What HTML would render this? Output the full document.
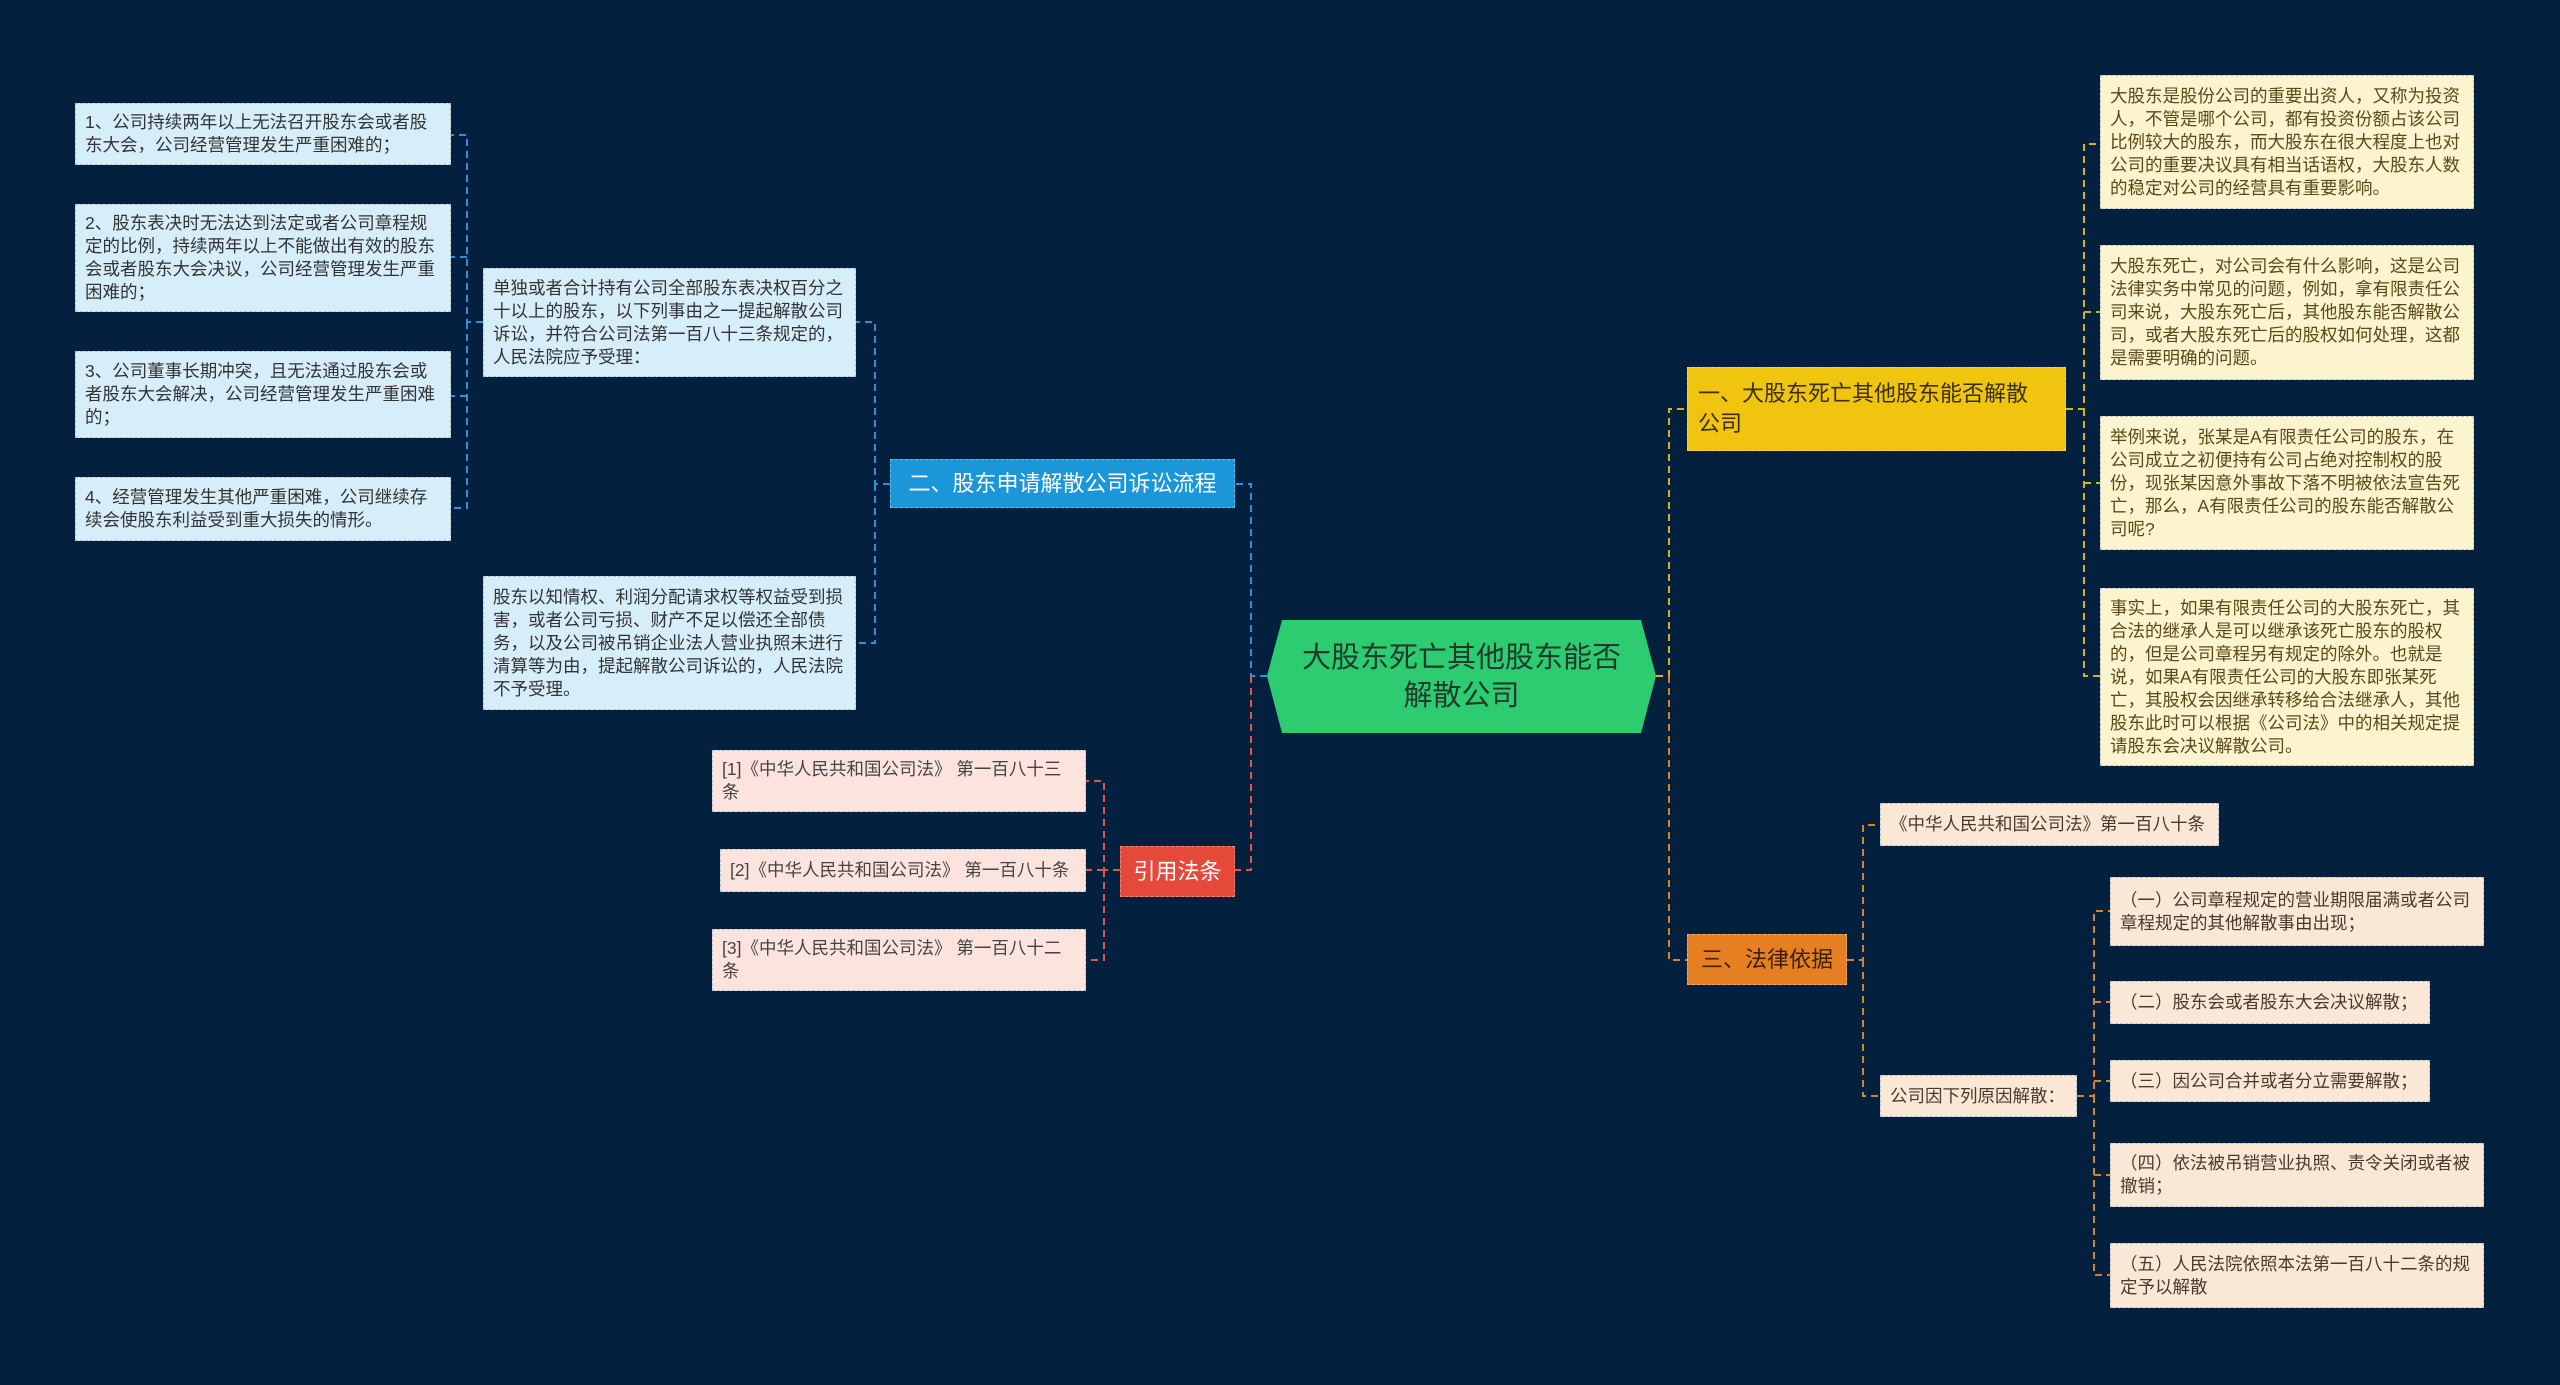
<!DOCTYPE html>
<html><head><meta charset="utf-8"><style>
html,body{margin:0;padding:0}
body{width:2560px;height:1385px;background:#03203f;position:relative;overflow:hidden;font-family:"Liberation Sans","Noto Sans CJK SC",sans-serif}
.b{position:absolute;box-sizing:border-box;border:1.5px dashed #b9c3cc;font-size:17.5px;line-height:23px;padding:0 9px;display:flex;align-items:center;color:#333}
.lb{background:#d5eef9}
.pk{background:#fce3de;color:#444}
.yl{background:#fcf3cf;color:#5b4a16}
.pc{background:#fbe7d5;color:#4a3a2a}
.n{position:absolute;box-sizing:border-box;font-size:22px;line-height:30px;display:flex;align-items:center;padding:0 10px;border:1.5px dashed rgba(255,255,255,.35)}
.nw{white-space:nowrap;justify-content:center;padding:0}
svg{position:absolute;left:0;top:0}
</style></head><body>
<svg width="2560" height="1385" fill="none" stroke-width="2" stroke-dasharray="7,5">
<g stroke="#2f8fd8">
<path d="M1267 676H1251V484H1235"/>
<path d="M890 484H875V322H856M875 484V643H856"/>
<path d="M483 322H467V135H451M467 322V508H451M467 257H451M467 396H451"/>
</g>
<g stroke="#e0574a">
<path d="M1251 676V870H1235"/>
<path d="M1120 870H1104V781H1086M1104 870V960H1086M1104 870H1086"/>
</g>
<g stroke="#d4b21c">
<path d="M1656 676H1669V409H1687"/>
<path d="M2066 409H2084V144H2100M2084 409V676H2100M2084 312H2100M2084 483H2100"/>
</g>
<g stroke="#d9822e">
<path d="M1669 676V960H1687"/>
<path d="M1847 960H1863V825H1880M1863 960V1096H1880"/>
<path d="M2077 1096H2094V911H2110M2094 1096V1275H2110M2094 1002H2110M2094 1081H2110M2094 1175H2110"/>
</g>
</svg>

<div class="b lb" style="left:75px;top:103px;width:376px;height:62px">1、公司持续两年以上无法召开股东会或者股东大会，公司经营管理发生严重困难的；</div>
<div class="b lb" style="left:75px;top:204px;width:376px;height:108px">2、股东表决时无法达到法定或者公司章程规定的比例，持续两年以上不能做出有效的股东会或者股东大会决议，公司经营管理发生严重困难的；</div>
<div class="b lb" style="left:75px;top:351px;width:376px;height:87px">3、公司董事长期冲突，且无法通过股东会或者股东大会解决，公司经营管理发生严重困难的；</div>
<div class="b lb" style="left:75px;top:477px;width:376px;height:64px">4、经营管理发生其他严重困难，公司继续存续会使股东利益受到重大损失的情形。</div>
<div class="b lb" style="left:483px;top:268px;width:373px;height:109px">单独或者合计持有公司全部股东表决权百分之十以上的股东，以下列事由之一提起解散公司诉讼，并符合公司法第一百八十三条规定的，人民法院应予受理：</div>
<div class="b lb" style="left:483px;top:576px;width:373px;height:134px;padding-right:4px">股东以知情权、利润分配请求权等权益受到损害，或者公司亏损、财产不足以偿还全部债务，以及公司被吊销企业法人营业执照未进行清算等为由，提起解散公司诉讼的，人民法院不予受理。</div>

<div class="n nw" style="left:890px;top:459px;width:345px;height:49px;background:#1b96d8;color:#fff">二、股东申请解散公司诉讼流程</div>
<div class="n nw" style="left:1120px;top:846px;width:115px;height:51px;background:#e4493a;color:#fff">引用法条</div>

<div class="b pk" style="left:712px;top:750px;width:374px;height:62px">[1]《中华人民共和国公司法》 第一百八十三条</div>
<div class="b pk" style="left:720px;top:849px;width:366px;height:43px">[2]《中华人民共和国公司法》 第一百八十条</div>
<div class="b pk" style="left:712px;top:929px;width:374px;height:62px">[3]《中华人民共和国公司法》 第一百八十二条</div>

<svg width="2560" height="1385"><polygon points="1282,620 1641,620 1656,676 1641,733 1282,733 1267,676" fill="#2ecc71"/></svg>
<div style="position:absolute;left:1267px;top:620px;width:389px;height:113px;display:flex;align-items:center;justify-content:center;text-align:center;font-size:29px;line-height:38px;color:#1d3a2a;padding:0 25px;box-sizing:border-box">大股东死亡其他股东能否解散公司</div>

<div class="n" style="left:1687px;top:367px;width:379px;height:84px;background:#f1c40f;color:#3a2e05;padding-right:24px">一、大股东死亡其他股东能否解散公司</div>
<div class="n nw" style="left:1687px;top:934px;width:160px;height:51px;background:#e67e22;color:#3a2008">三、法律依据</div>

<div class="b yl" style="left:2100px;top:75px;width:374px;height:134px">大股东是股份公司的重要出资人，又称为投资人，不管是哪个公司，都有投资份额占该公司比例较大的股东，而大股东在很大程度上也对公司的重要决议具有相当话语权，大股东人数的稳定对公司的经营具有重要影响。</div>
<div class="b yl" style="left:2100px;top:245px;width:374px;height:135px">大股东死亡，对公司会有什么影响，这是公司法律实务中常见的问题，例如，拿有限责任公司来说，大股东死亡后，其他股东能否解散公司，或者大股东死亡后的股权如何处理，这都是需要明确的问题。</div>
<div class="b yl" style="left:2100px;top:416px;width:374px;height:134px;padding-right:4px">举例来说，张某是A有限责任公司的股东，在公司成立之初便持有公司占绝对控制权的股份，现张某因意外事故下落不明被依法宣告死亡，那么，A有限责任公司的股东能否解散公司呢?</div>
<div class="b yl" style="left:2100px;top:588px;width:374px;height:178px;padding-right:4px">事实上，如果有限责任公司的大股东死亡，其合法的继承人是可以继承该死亡股东的股权的，但是公司章程另有规定的除外。也就是说，如果A有限责任公司的大股东即张某死亡，其股权会因继承转移给合法继承人，其他股东此时可以根据《公司法》中的相关规定提请股东会决议解散公司。</div>

<div class="b pc" style="left:1880px;top:803px;width:339px;height:43px">《中华人民共和国公司法》第一百八十条</div>
<div class="b pc" style="left:1880px;top:1075px;width:197px;height:42px">公司因下列原因解散：</div>
<div class="b pc" style="left:2110px;top:877px;width:374px;height:69px">（一）公司章程规定的营业期限届满或者公司章程规定的其他解散事由出现；</div>
<div class="b pc" style="left:2110px;top:981px;width:320px;height:43px">（二）股东会或者股东大会决议解散；</div>
<div class="b pc" style="left:2110px;top:1060px;width:320px;height:42px">（三）因公司合并或者分立需要解散；</div>
<div class="b pc" style="left:2110px;top:1143px;width:374px;height:64px">（四）依法被吊销营业执照、责令关闭或者被撤销；</div>
<div class="b pc" style="left:2110px;top:1243px;width:374px;height:65px">（五）人民法院依照本法第一百八十二条的规定予以解散</div>
</body></html>
